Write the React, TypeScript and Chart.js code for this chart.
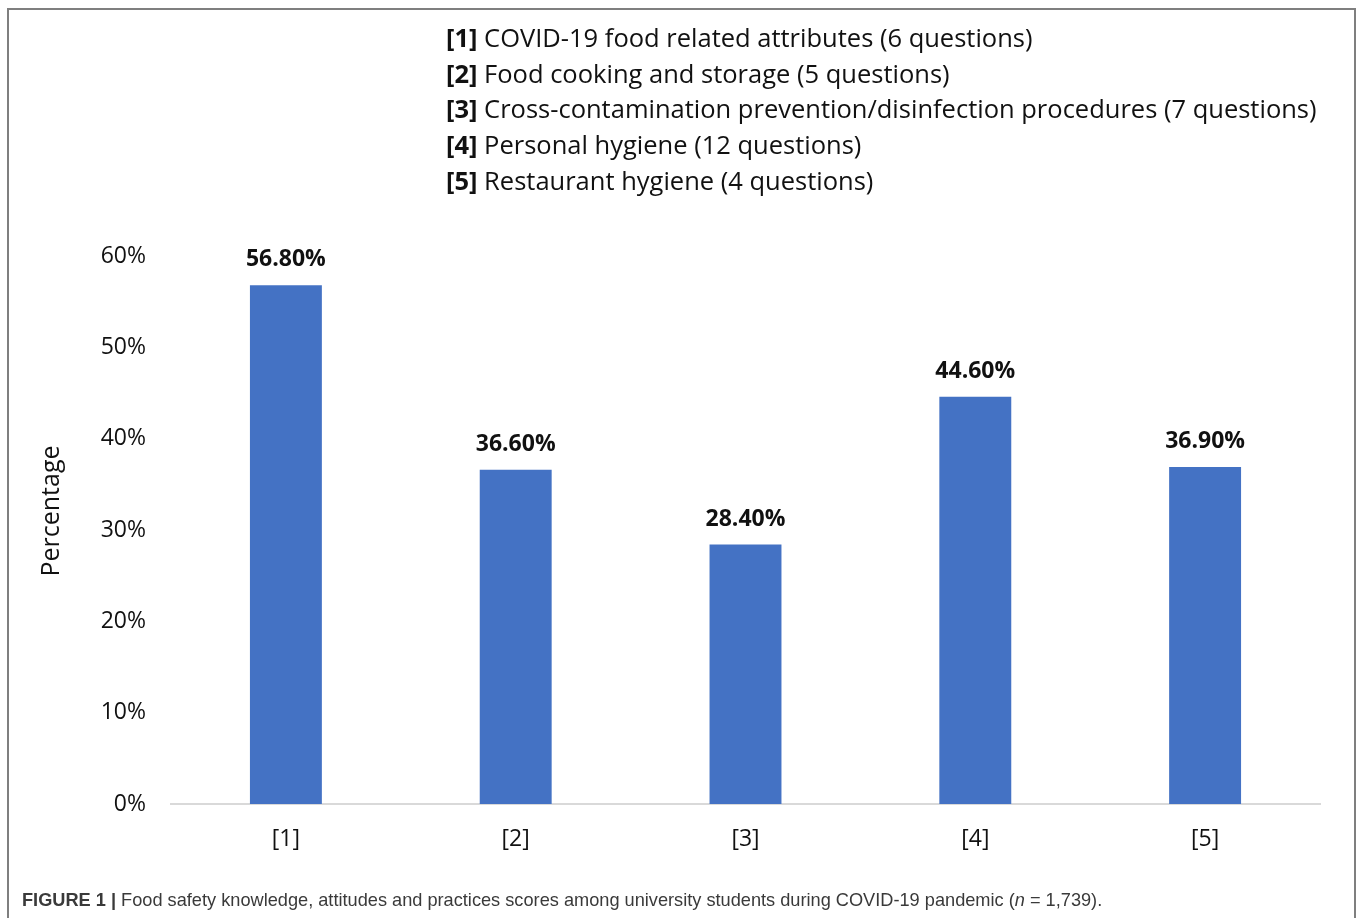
import React, { useEffect, useRef } from "react";
import { Chart, registerables } from "chart.js";

Chart.register(...registerables);

const categories = ["[1]", "[2]", "[3]", "[4]", "[5]"];
const values = [56.8, 36.6, 28.4, 44.6, 36.9];
const valueLabels = ["56.80%", "36.60%", "28.40%", "44.60%", "36.90%"];
const yMin = 0;
const yMax = 60;
const yStep = 10;
const legendKeys = ["[1]", "[2]", "[3]", "[4]", "[5]"];
const legendTexts = [
  "COVID-19 food related attributes (6 questions)",
  "Food cooking and storage (5 questions)",
  "Cross-contamination prevention/disinfection procedures (7 questions)",
  "Personal hygiene (12 questions)",
  "Restaurant hygiene (4 questions)",
];
const yAxisTitle = "Percentage";
const captionBold = "FIGURE 1 |";
const captionText =
  " Food safety knowledge, attitudes and practices scores among university students during COVID-19 pandemic (";
const captionTail = " = 1,739).";

const FONT = "'Open Sans', sans-serif";

export default function App() {
  const ref = useRef<HTMLCanvasElement | null>(null);

  useEffect(() => {
    if (!ref.current) return;
    const labelPlugin = {
      id: "extras",
      afterDatasetsDraw(chart: any) {
        const ctx = chart.ctx;
        const meta = chart.getDatasetMeta(0);
        ctx.save();
        ctx.fillStyle = "#111";
        ctx.font = `bold 23px ${FONT}`;
        ctx.textAlign = "center";
        ctx.textBaseline = "alphabetic";
        meta.data.forEach((bar: any, i: number) => {
          ctx.fillText(valueLabels[i], bar.x, bar.y - 19);
        });
        ctx.restore();
        ctx.save();
        ctx.fillStyle = "#111";
        ctx.font = `25px ${FONT}`;
        ctx.textAlign = "center";
        ctx.textBaseline = "middle";
        ctx.translate(52, 511);
        ctx.rotate(-Math.PI / 2);
        ctx.fillText(yAxisTitle, 0, 0);
        ctx.restore();
      },
    };

    const chart = new Chart(ref.current, {
      type: "bar",
      data: {
        labels: categories,
        datasets: [
          {
            data: values,
            backgroundColor: "#4472C4",
            borderWidth: 0,
            barPercentage: 1,
            categoryPercentage: 0.313,
          },
        ],
      },
      options: {
        animation: false,
        responsive: false,
        maintainAspectRatio: false,
        events: [],
        layout: { padding: { left: 0, right: 40, top: 256, bottom: 0 } },
        plugins: {
          legend: { display: false },
          title: { display: false },
          tooltip: { enabled: false },
        },
        scales: {
          x: {
            grid: { display: false, drawTicks: false },
            border: { display: true, color: "#d9d9d9", width: 2 },
            ticks: {
              color: "#111",
              font: { family: FONT, size: 23 },
              padding: 22,
            },
            afterFit(scale: any) {
              scale.height = 114;
            },
          },
          y: {
            min: yMin,
            max: yMax,
            grid: { display: false, drawTicks: false },
            border: { display: false },
            ticks: {
              stepSize: yStep,
              color: "#111",
              font: { family: FONT, size: 23 },
              padding: 25,
              callback: (v: any) => `${v}%`,
            },
            afterFit(scale: any) {
              scale.width = 171;
            },
          },
        },
      },
      plugins: [labelPlugin],
    });
    return () => chart.destroy();
  }, []);

  return (
    <div
      style={{
        position: "fixed",
        left: 0,
        top: 0,
        width: 1360,
        height: 918,
        background: "#fff",
        overflow: "hidden",
      }}
    >
      <div
        style={{
          position: "absolute",
          left: 7,
          top: 8,
          width: 1349,
          height: 940,
          border: "2px solid #7f7f7f",
          boxSizing: "border-box",
        }}
      />
      <canvas
        ref={ref}
        width={1360}
        height={918}
        style={{ position: "absolute", left: 0, top: 0, width: 1360, height: 918 }}
      />
      {legendTexts.map((t, i) => (
        <div
          key={i}
          style={{
            position: "absolute",
            left: 446,
            top: 37 + i * 35.7 - 17,
            height: 34,
            lineHeight: "34px",
            fontFamily: FONT,
            fontSize: 25.5,
            color: "#111",
            whiteSpace: "nowrap",
          }}
        >
          <b>{legendKeys[i]}</b> {t}
        </div>
      ))}
      <div
        style={{
          position: "absolute",
          left: 22,
          top: 889,
          height: 22,
          lineHeight: "22px",
          fontFamily: "'Liberation Sans', Arial, sans-serif",
          fontSize: 18.2,
          color: "#3a3a3a",
          whiteSpace: "nowrap",
        }}
      >
        <b>{captionBold}</b>
        {captionText}
        <i>n</i>
        {captionTail}
      </div>
    </div>
  );
}
